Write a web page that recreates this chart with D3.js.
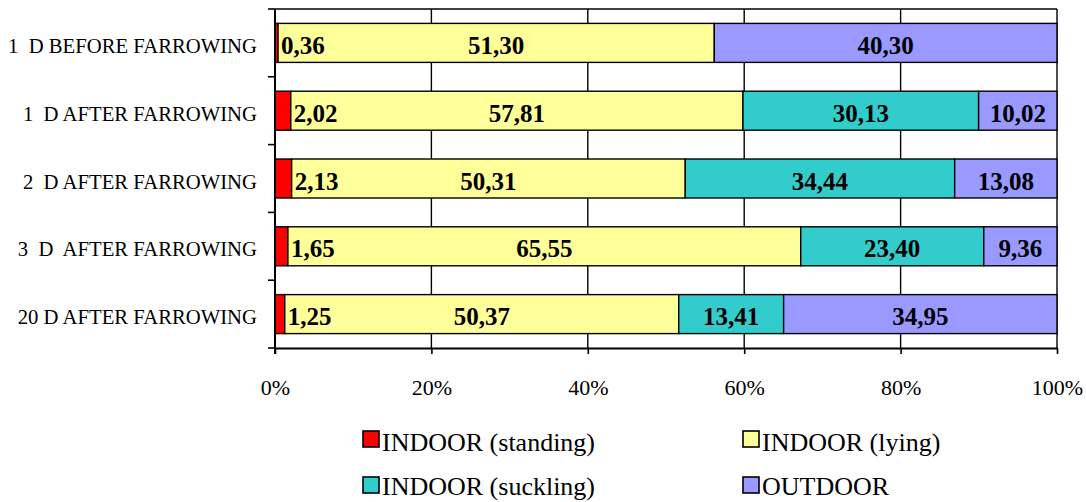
<!DOCTYPE html>
<html>
<head>
<meta charset="utf-8">
<script src="https://cdn.jsdelivr.net/npm/d3@7"></script>
<style>
  html, body { margin: 0; padding: 0; background: #fff; }
  svg { display: block; }
</style>
</head>
<body>
<svg id="chart" width="1086" height="502"></svg>
<script>
// Time budget of sows around farrowing (% of observations)
const categories = [
  "1  D BEFORE FARROWING",
  "1  D AFTER FARROWING",
  "2  D AFTER FARROWING",
  "3  D  AFTER FARROWING",
  "20 D AFTER FARROWING"
];
const seriesNames = ["INDOOR (standing)", "INDOOR (lying)", "INDOOR (suckling)", "OUTDOOR"];
const standing = [0.36, 2.02, 2.13, 1.65, 1.25];
const lying    = [51.30, 57.81, 50.31, 65.55, 50.37];
const suckling = [0, 30.13, 34.44, 23.40, 13.41];
const outdoor  = [40.30, 10.02, 13.08, 9.36, 34.95];
const xTicks = [0, 0.2, 0.4, 0.6, 0.8, 1];
const colors = ["#FF0000", "#FFFF99", "#33CCCC", "#9999FF"];

const FONT = "'Liberation Serif', 'Times New Roman', 'DejaVu Serif', serif";

const keys = ["standing", "lying", "suckling", "outdoor"];
const table = categories.map((c, i) => ({
  category: c,
  standing: standing[i],
  lying: lying[i],
  suckling: suckling[i],
  outdoor: outdoor[i]
}));

const stack = d3.stack().keys(keys).offset(d3.stackOffsetExpand);
const layers = stack(table);

const svg = d3.select("#chart");
const plot = { left: 275, right: 1057, top: 9, bottom: 348 };

const x = d3.scaleLinear().domain([0, 1]).range([plot.left, plot.right]);
const y = d3.scaleBand().domain(categories).range([plot.top, plot.bottom]).paddingInner(0.425).paddingOuter(0.2125);
const color = d3.scaleOrdinal().domain(keys).range(colors);

// vertical gridlines
svg.append("g")
  .selectAll("line")
  .data(xTicks.slice(1))
  .join("line")
  .attr("x1", d => x(d)).attr("x2", d => x(d))
  .attr("y1", plot.top).attr("y2", plot.bottom)
  .attr("stroke", "#000").attr("stroke-width", 1.4);

// top border of plot area
svg.append("line")
  .attr("x1", plot.left).attr("x2", plot.right)
  .attr("y1", plot.top).attr("y2", plot.top)
  .attr("stroke", "#000").attr("stroke-width", 1.4);

// bars
const gBars = svg.append("g");
layers.forEach(layer => {
  gBars.append("g")
    .attr("fill", color(layer.key))
    .selectAll("rect")
    .data(layer.filter(d => d[1] - d[0] > 0))
    .join("rect")
    .attr("x", d => x(d[0]))
    .attr("width", d => x(d[1]) - x(d[0]))
    .attr("y", d => y(d.data.category))
    .attr("height", y.bandwidth())
    .attr("stroke", "#000")
    .attr("stroke-width", 1.4);
});

// value labels
const fmt = v => d3.format(".2f")(v).replace(".", ",");
const gLabels = svg.append("g");
layers.forEach((layer, li) => {
  gLabels.selectAll(null)
    .data(layer.filter(d => d.data[layer.key] > 0))
    .join("text")
    .attr("x", d => li === 0 ? x(d[1]) + 3 : (x(d[0]) + x(d[1])) / 2)
    .attr("text-anchor", li === 0 ? "start" : "middle")
    .attr("y", d => y(d.data.category) + y.bandwidth() / 2 + 11)
    .style("font-family", FONT)
    .style("font-weight", "bold")
    .style("font-size", "25px")
    .style("fill", "#000")
    .text(d => fmt(d.data[layer.key]));
});

// bottom axis
const xAxis = d3.axisBottom(x)
  .tickValues(xTicks)
  .tickFormat(d3.format(".0%"))
  .tickSize(6)
  .tickSizeOuter(0)
  .tickPadding(25);
const gx = svg.append("g")
  .attr("transform", `translate(0,${plot.bottom})`)
  .call(xAxis);
gx.select(".domain").attr("stroke-width", 2);
gx.selectAll(".tick line").attr("stroke-width", 1.6);
gx.selectAll(".tick text")
  .style("font-family", FONT)
  .style("font-size", "22px")
  .style("fill", "#000");

// left axis: ticks at category boundaries
const boundaries = categories.map(c => y(c) - y.step() * y.paddingInner() / 2).concat([plot.bottom]);
const gy = svg.append("g");
gy.append("line")
  .attr("x1", plot.left).attr("x2", plot.left)
  .attr("y1", plot.top).attr("y2", plot.bottom + 6)
  .attr("stroke", "#000").attr("stroke-width", 2);
gy.selectAll("line.tick")
  .data(boundaries)
  .join("line")
  .attr("class", "tick")
  .attr("x1", plot.left - 7).attr("x2", plot.left)
  .attr("y1", d => d).attr("y2", d => d)
  .attr("stroke", "#000").attr("stroke-width", 1.6);
gy.selectAll("text")
  .data(categories)
  .join("text")
  .attr("x", 257)
  .attr("y", d => y(d) + y.bandwidth() / 2 + 10)
  .attr("text-anchor", "end")
  .style("font-family", FONT)
  .style("font-size", "20.7px")
  .style("fill", "#000")
  .style("white-space", "pre")
  .text(d => d);

// legend, two columns by two rows
const legendPos = [
  { x: 363, y: 431, base: 451 },
  { x: 743, y: 431, base: 451 },
  { x: 363, y: 477, base: 495 },
  { x: 743, y: 477, base: 495 }
];
const gLeg = svg.append("g");
seriesNames.forEach((name, i) => {
  const p = legendPos[i];
  gLeg.append("rect")
    .attr("x", p.x).attr("y", p.y)
    .attr("width", 16).attr("height", 16)
    .attr("fill", colors[i])
    .attr("stroke", "#000").attr("stroke-width", 1.6);
  gLeg.append("text")
    .attr("x", p.x + 19)
    .attr("y", p.base)
    .style("font-family", FONT)
    .style("font-size", "26px")
    .style("fill", "#000")
    .text(name);
});
</script>
</body>
</html>
